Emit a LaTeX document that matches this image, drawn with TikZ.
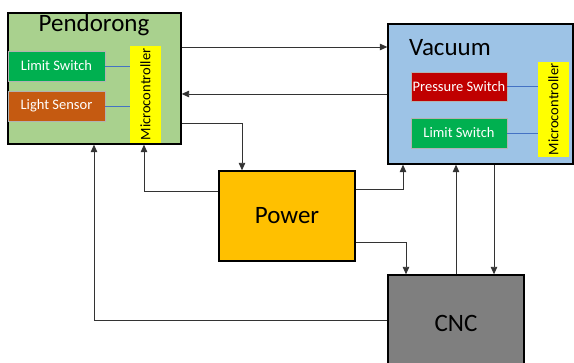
\documentclass[tikz,border=0pt]{standalone}
\usepackage{fontspec}
\setmainfont{Carlito}
\usetikzlibrary{arrows.meta}
\definecolor{pendg}{HTML}{A9D18E}
\definecolor{vacb}{HTML}{9DC3E6}
\definecolor{powy}{HTML}{FFC000}
\definecolor{cncg}{HTML}{7F7F7F}
\definecolor{gsw}{HTML}{00B050}
\definecolor{osw}{HTML}{C55A11}
\definecolor{rsw}{HTML}{C00000}
\definecolor{mcy}{HTML}{FFFF00}
\definecolor{wire}{HTML}{4472C4}
\tikzset{
  bigbox/.style={draw=black, line width=1.3pt, inner sep=0pt},
  subbox/.style={draw=white!70!black, line width=0.3pt, inner sep=0pt, text=white, font=\fontsize{14.5}{16}\selectfont},
  mcbox/.style={fill=mcy, inner sep=0pt, minimum width=31pt},
  mctext/.style={rotate=90, inner sep=0pt, font=\fontsize{14.5}{16}\selectfont},
  title/.style={font=\fontsize{25}{30}\selectfont, inner sep=0pt},
  arr/.style={draw=black!80, line width=0.9pt, -{Triangle[length=7.5pt,width=6.5pt]}},
  bluewire/.style={draw=wire, line width=0.7pt}
}
\begin{document}
\begin{tikzpicture}[x=1pt,y=-1pt]
\useasboundingbox (0,0) rectangle (574,363);
\clip (0,0) rectangle (574,363);
% main boxes
\node[bigbox, fill=pendg, minimum width=173pt, minimum height=131pt] (pend) at (94.5,78.5) {};
\node[bigbox, fill=vacb, minimum width=185pt, minimum height=140pt] (vac) at (480.5,94) {};
\node[bigbox, fill=powy, minimum width=136pt, minimum height=90pt] (power) at (287,216) {};
\node[bigbox, fill=cncg, minimum width=136pt, minimum height=100pt] (cnc) at (456,325) {};
% titles
\node[title] (pendt) at (94,25) {Pendorong};
\node[title] (vact) at (450,48) {Vacuum};
\node[title] (powt) at (287,216) {Power};
\node[title] (cnct) at (456,323) {CNC};
% inner boxes
\node[subbox, fill=gsw, minimum width=97pt, minimum height=30pt] (ls1) at (56.5,66) {Limit Switch};
\node[subbox, fill=osw, minimum width=97pt, minimum height=30pt] (light) at (56.5,106) {Light Sensor};
\node[mcbox, minimum height=97pt] (mc1) at (145.5,94.5) {};
\node[mctext] (mc1t) at (145.5,94.5) {Microcontroller};
\node[subbox, fill=rsw, minimum width=96pt, minimum height=29pt] (ps) at (459,86.5) {Pressure Switch};
\node[subbox, fill=gsw, minimum width=96pt, minimum height=30pt] (ls2) at (459,133) {Limit Switch};
\node[mcbox, minimum height=95pt] (mc2) at (553.5,109.5) {};
\node[mctext] (mc2t) at (553.5,109.5) {Microcontroller};
% wires
\draw[bluewire] (ls1.east) -- (mc1.west |- ls1.east);
\draw[bluewire] (light.east) -- (mc1.west |- light.east);
\draw[bluewire] (ps.east) -- (mc2.west |- ps.east);
\draw[bluewire] (ls2.east) -- (mc2.west |- ls2.east);
% level coordinates
\coordinate (y47) at (0,47);
\coordinate (y94) at (0,94);
\coordinate (y123) at (0,123);
\coordinate (y189) at (0,189);
\coordinate (y191) at (0,191);
\coordinate (y242) at (0,242);
\coordinate (y320) at (0,320);
\coordinate (x94) at (94,0);
\coordinate (x144) at (144,0);
\coordinate (x242) at (242,0);
\coordinate (x403) at (403,0);
\coordinate (x406) at (406,0);
\coordinate (x456) at (456,0);
\coordinate (x494) at (494,0);
% connectors
\draw[arr] (pend.east |- y47) -- (vac.west |- y47);
\draw[arr] (vac.west |- y94) -- (pend.east |- y94);
\draw[arr] (pend.east |- y123) -| (x242 |- power.north);
\draw[arr] (power.west |- y191) -| (x144 |- pend.south);
\draw[arr] (cnc.west |- y320) -| (x94 |- pend.south);
\draw[arr] (power.east |- y189) -| (x403 |- vac.south);
\draw[arr] (power.east |- y242) -| (x406 |- cnc.north);
\draw[arr] (x456 |- cnc.north) -- (x456 |- vac.south);
\draw[arr] (x494 |- vac.south) -- (x494 |- cnc.north);
\end{tikzpicture}
\end{document}
